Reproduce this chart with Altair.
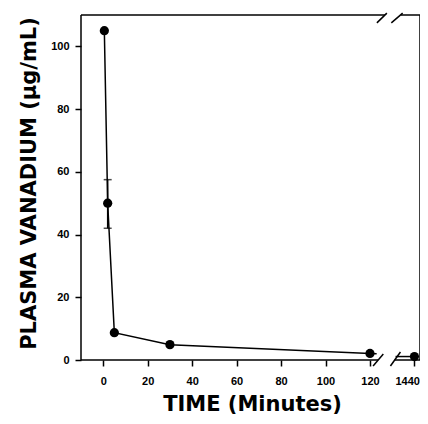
import altair as alt
import pandas as pd

# ---- data ----
time_min = [0.5, 2, 5, 30, 120, 1440]
vanadium = [105, 50, 8.7, 4.9, 2.1, 1.1]

err_time = [2, 2]
err_value = [42, 57.5]

x_ticks = [0, 20, 40, 60, 80, 100, 120, 140]
x_tick_labels = ["0", "20", "40", "60", "80", "100", "120", "1440"]
y_ticks = [0, 20, 40, 60, 80, 100]

X_DOMAIN = [-10, 142.5]
Y_DOMAIN = [0, 110]
BREAK_POS = 140          # axis position where the 1440 min point is drawn
LAST_BEFORE_BREAK = 120

# break decoration (data units)
break_gap_bottom = [123.7, 131.1]
break_gap_top = [126.7, 133.8]
slash_x = [121.4, 129.2, 123.1, 129.6]
slash_x2 = [126.0, 133.7, 127.6, 134.7]
slash_y = [-1.9, -1.9, 107.5, 107.5]
slash_y2 = [1.9, 2.55, 110.6, 110.6]

# ---- derived tables ----
def pos(t):
    return t if t <= LAST_BEFORE_BREAK else BREAK_POS

pts = pd.DataFrame({"x": [pos(t) for t in time_min], "y": vanadium})

n_before = sum(1 for t in time_min if t <= LAST_BEFORE_BREAK)
line_rows = []
for i in range(n_before):
    line_rows.append({"x": pos(time_min[i]), "y": vanadium[i], "seg": "a"})
line_rows.append({"x": 123.0, "y": vanadium[n_before - 1] - 0.1, "seg": "a"})
line_rows.append({"x": 131.5, "y": vanadium[n_before], "seg": "b"})
line_rows.append({"x": pos(time_min[n_before]), "y": vanadium[n_before], "seg": "b"})
line_df = pd.DataFrame(line_rows)

err_rule = pd.DataFrame({"x": [err_time[0]], "y": [min(err_value)], "y2": [max(err_value)]})
err_caps = pd.DataFrame({"x": err_time, "y": err_value})

x0, x1 = X_DOMAIN
y0, y1 = Y_DOMAIN
frame = pd.DataFrame({
    "x":  [x0, x1, x0, break_gap_bottom[1], x0, break_gap_top[1]],
    "x2": [x0, x1, break_gap_bottom[0], x1, break_gap_top[0], x1],
    "y":  [y0, y0, y0, y0, y1, y1],
    "y2": [y1, y1, y0, y0, y1, y1],
})
slashes = pd.DataFrame({"x": slash_x, "x2": slash_x2, "y": slash_y, "y2": slash_y2})

label_expr = " : ".join(
    f"datum.value == {v} ? '{l}'" for v, l in zip(x_ticks, x_tick_labels)
) + " : datum.label"

X = alt.X(
    "x:Q",
    scale=alt.Scale(domain=X_DOMAIN, nice=False, zero=False),
    axis=alt.Axis(
        values=x_ticks, labelExpr=label_expr, title="TIME (Minutes)",
        labelPadding=9, titleY=50, titleX=171, titleBaseline="alphabetic",
        titleAnchor="middle", labelFlush=10, labelFlushOffset=5,
    ),
)
Y = alt.Y(
    "y:Q",
    scale=alt.Scale(domain=Y_DOMAIN, nice=False),
    axis=alt.Axis(
        values=y_ticks, title="PLASMA VANADIUM (µg/mL)", labelPadding=6,
        titleX=-46, titleY=168, titleAngle=270, titleBaseline="alphabetic",
        titleAlign="center",
    ),
)

frame_layer = alt.Chart(frame).mark_rule(color="black", strokeWidth=1.5).encode(
    x=X, x2="x2:Q", y=Y, y2="y2:Q")
slash_layer = alt.Chart(slashes).mark_rule(color="black", strokeWidth=1.5).encode(
    x=X, x2="x2:Q", y=Y, y2="y2:Q")
line_layer = alt.Chart(line_df).mark_line(color="black", strokeWidth=1.5).encode(
    x=X, y=Y, detail="seg:N", order="x:Q")
err_layer = alt.Chart(err_rule).mark_rule(color="black", strokeWidth=1.5).encode(
    x=X, y=Y, y2="y2:Q")
cap_layer = alt.Chart(err_caps).mark_tick(
    color="black", orient="horizontal", size=8, thickness=1.5).encode(x=X, y=Y)
pt_layer = alt.Chart(pts).mark_circle(color="black", size=85, opacity=1).encode(x=X, y=Y)

chart = alt.layer(
    frame_layer, slash_layer, line_layer, err_layer, cap_layer, pt_layer
).properties(
    width=339, height=345,
    autosize=alt.AutoSizeParams(type="none"),
    padding={"left": 73, "top": 7, "right": 0, "bottom": 56},
).configure_view(stroke=None).configure_axis(
    domain=False, grid=False, tickColor="black", tickWidth=1.5, tickSize=6,
    labelFont="Liberation Sans", labelFontWeight="bold", labelFontSize=11,
    labelColor="black", titleFont="DejaVu Sans", titleFontWeight="bold",
    titleFontSize=21, titleColor="black",
)

chart.save("out.html", embed_options={"renderer": "svg", "actions": False})
